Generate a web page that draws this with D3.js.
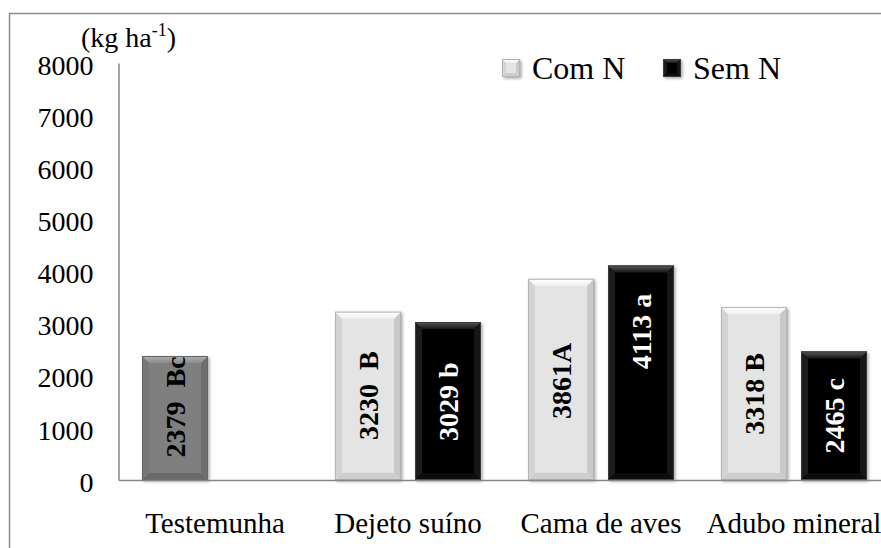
<!DOCTYPE html>
<html>
<head>
<meta charset="utf-8">
<script src="https://cdn.jsdelivr.net/npm/d3@7"></script>
<style>
  html, body { margin: 0; padding: 0; background: #fff; }
  svg, svg text { font-family: 'Liberation Serif', 'Times New Roman', Times, serif !important; }
</style>
</head>
<body>
<svg id="chart" width="881" height="548"></svg>
<script>
// ---- data ----
const categories = ["Testemunha", "Dejeto suíno", "Cama de aves", "Adubo mineral"];
const seriesNames = ["Com N", "Sem N"];
const controlValues = [2379, null, null, null];
const comNValues = [null, 3230, 3861, 3318];
const semNValues = [null, 3029, 4113, 2465];
const controlLabels = ["2379  Bc", "", "", ""];
const comNLabels = ["", "3230  B", "3861A", "3318 B"];
const semNLabels = ["", "3029 b", "4113 a", "2465 c"];
// label centre position along the bar, in kg ha-1
const controlLabelAt = [1400, null, null, null];
const comNLabelAt = [null, 1620, 1900, 1650];
const semNLabelAt = [null, 1500, 2850, 1230];
const yTicks = [0, 1000, 2000, 3000, 4000, 5000, 6000, 7000, 8000];
const unitLabel = "(kg ha";

// ---- build rows ----
const bars = [];
categories.forEach((c, i) => {
  if (controlValues[i] != null) bars.push({cat: c, slot: "Com N", kind: "control", v: controlValues[i], label: controlLabels[i], at: controlLabelAt[i]});
  if (comNValues[i] != null) bars.push({cat: c, slot: "Com N", kind: "com", v: comNValues[i], label: comNLabels[i], at: comNLabelAt[i]});
  if (semNValues[i] != null) bars.push({cat: c, slot: "Sem N", kind: "sem", v: semNValues[i], label: semNLabels[i], at: semNLabelAt[i]});
});

const svg = d3.select("#chart");
const FONT = "'Liberation Serif', 'Times New Roman', Times, serif";

// frame
svg.append("rect").attr("x", 9.5).attr("y", 13.5).attr("width", 900).attr("height", 600)
  .attr("fill", "#fff").attr("stroke", "#8c8c8c").attr("stroke-width", 1.5);

const x0 = d3.scaleBand().domain(categories).range([118.5, 890.5]);
const x1 = d3.scaleBand().domain(seriesNames).range([23.5, 169.5]).paddingInner(0.175);
const y = d3.scaleLinear().domain([0, 8000]).range([480, 63]);

// palettes for bevelled bars
const styles = {
  com:     {base: "#e4e4e4", topA: "#ffffff", topB: "#f0f0f0", left: "#d3d3d3", right: "#c9c9c9", bottom: "#cdcdcd", edge: "#b3b3b3"},
  sem:     {base: "#000000", topA: "#5a5a5a", topB: "#151515", left: "#1c1c1c", right: "#161616", bottom: "#0c0c0c", edge: "#3a3a3a"},
  control: {base: "#7f7f7f", topA: "#b0b0b0", topB: "#8d8d8d", left: "#777777", right: "#6e6e6e", bottom: "#6a6a6a", edge: "#666666"}
};

const defs = svg.append("defs");
const f = defs.append("filter").attr("id", "shadow").attr("x", "-20%").attr("y", "-20%").attr("width", "140%").attr("height", "140%");
f.append("feDropShadow").attr("dx", 1.5).attr("dy", 1.5).attr("stdDeviation", 1.5).attr("flood-color", "#000").attr("flood-opacity", 0.35);
Object.entries(styles).forEach(([k, s]) => {
  const g = defs.append("linearGradient").attr("id", "top-" + k).attr("x1", 0).attr("y1", 0).attr("x2", 0).attr("y2", 1);
  g.append("stop").attr("offset", "0%").attr("stop-color", s.topA);
  g.append("stop").attr("offset", "100%").attr("stop-color", s.topB);
});

function bevel(g, x, yy, w, h, kind, b) {
  const s = styles[kind];
  const grp = g.append("g").attr("filter", "url(#shadow)");
  grp.append("rect").attr("x", x).attr("y", yy).attr("width", w).attr("height", h).attr("fill", s.base);
  const poly = pts => pts.map(p => p.join(",")).join(" ");
  grp.append("polygon").attr("points", poly([[x, yy + h], [x + w, yy + h], [x + w - b, yy + h - b], [x + b, yy + h - b]])).attr("fill", s.bottom);
  grp.append("polygon").attr("points", poly([[x, yy], [x + b, yy + b], [x + b, yy + h - b], [x, yy + h]])).attr("fill", s.left);
  grp.append("polygon").attr("points", poly([[x + w, yy], [x + w, yy + h], [x + w - b, yy + h - b], [x + w - b, yy + b]])).attr("fill", s.right);
  grp.append("polygon").attr("points", poly([[x, yy], [x + w, yy], [x + w - b, yy + b], [x + b, yy + b]])).attr("fill", "url(#top-" + kind + ")");
  grp.append("rect").attr("x", x + 0.5).attr("y", yy + 0.5).attr("width", w - 1).attr("height", h - 1)
    .attr("fill", "none").attr("stroke", s.edge).attr("stroke-width", 1);
}

// bars
const barG = svg.append("g");
bars.forEach(d => {
  const bx = x0(d.cat) + x1(d.slot);
  const by = y(d.v);
  bevel(barG, bx, by, x1.bandwidth(), y(0) - by, d.kind, 7);
});

// bar labels
svg.append("g").selectAll("text").data(bars).join("text")
  .attr("transform", d => `translate(${x0(d.cat) + x1(d.slot) + x1.bandwidth() / 2},${y(d.at)}) rotate(-90)`)
  .attr("text-anchor", "middle")
  .attr("dy", "0.35em")
  .attr("xml:space", "preserve")
  .style("white-space", "pre")
  .style("font-family", FONT)
  .attr("font-weight", "bold")
  .attr("font-size", 28)
  .attr("fill", d => d.kind === "sem" ? "#fff" : "#000")
  .text(d => d.label);

// y axis
const yAxis = svg.append("g").attr("transform", "translate(118.5,0)")
  .call(d3.axisLeft(y).tickValues(yTicks).tickSize(0).tickSizeOuter(0).tickPadding(25).tickFormat(d3.format("d")));
yAxis.attr("font-family", null);
yAxis.select(".domain").attr("stroke", "#868686").attr("stroke-width", 1.5);
yAxis.selectAll("text").style("font-family", FONT).attr("font-size", 28).attr("fill", "#000").attr("dy", "0.4em");

// x axis
const xAxis = svg.append("g").attr("transform", "translate(0,480)")
  .call(d3.axisBottom(x0).tickSize(0).tickSizeOuter(0).tickPadding(33));
xAxis.attr("font-family", null);
xAxis.select(".domain").attr("stroke", "#868686").attr("stroke-width", 1.5);
xAxis.selectAll("text").style("font-family", FONT).attr("font-size", 29).attr("fill", "#000").attr("dy", "0.68em");

// unit label
const u = svg.append("text").attr("x", 81).attr("y", 47).style("font-family", FONT).attr("font-size", 28).attr("fill", "#000");
u.append("tspan").text(unitLabel);
u.append("tspan").attr("dy", -11).attr("font-size", 18).text("-1");
u.append("tspan").attr("dy", 11).text(")");

// legend
const legendItems = [{name: seriesNames[0], kind: "com", x: 502, tx: 532}, {name: seriesNames[1], kind: "sem", x: 663, tx: 693}];
legendItems.forEach(it => {
  bevel(svg, it.x, 59, 18, 18, it.kind, 4);
  svg.append("text").attr("x", it.tx).attr("y", 79).style("font-family", FONT).attr("font-size", 32).attr("fill", "#000").text(it.name);
});
</script>
</body>
</html>
